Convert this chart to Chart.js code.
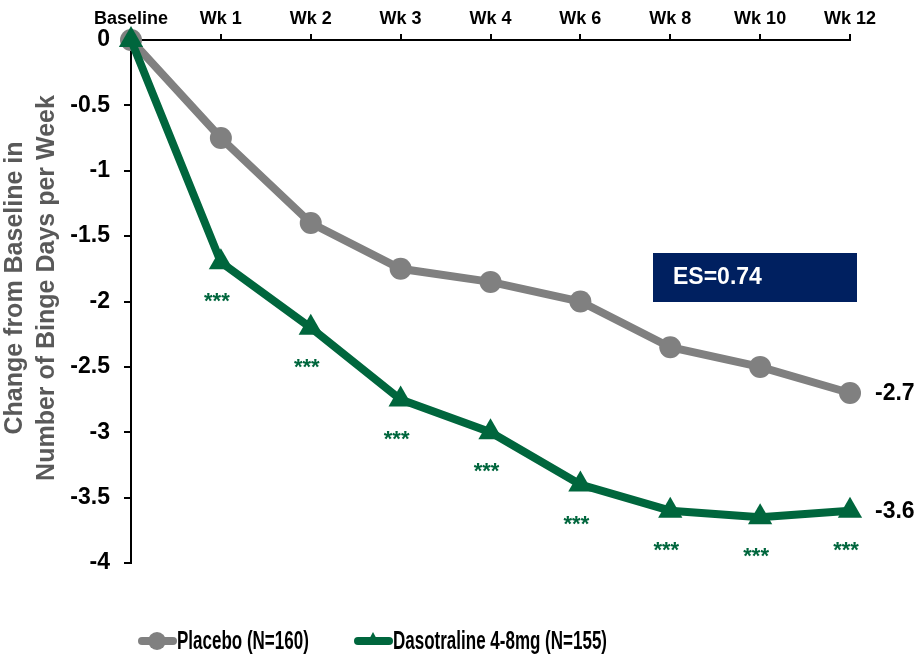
<!DOCTYPE html>
<html>
<head>
<meta charset="utf-8">
<script src="https://cdn.jsdelivr.net/npm/chart.js@4.4.1/dist/chart.umd.min.js"></script>
<style>
  html, body { margin: 0; padding: 0; background: #fff; }
</style>
</head>
<body>
<canvas id="myChart" width="920" height="658"></canvas>
<script>
// chart data
var weeks = ['Baseline', 'Wk 1', 'Wk 2', 'Wk 3', 'Wk 4', 'Wk 6', 'Wk 8', 'Wk 10', 'Wk 12'];
var placebo = [0, -0.75, -1.4, -1.75, -1.85, -2.0, -2.35, -2.5, -2.7];
var dasotraline = [0, -1.7, -2.2, -2.75, -3.0, -3.4, -3.6, -3.65, -3.6];
var significance = ['', '***', '***', '***', '***', '***', '***', '***', '***'];
var seriesNames = ['Placebo (N=160)', 'Dasotraline 4-8mg (N=155)'];
var endLabels = ['-2.7', '-3.6'];
var yTicks = [0, -0.5, -1, -1.5, -2, -2.5, -3, -3.5, -4];
var yTitle = ['Change from Baseline in', 'Number of Binge Days per Week'];
var effectSize = 'ES=0.74';

var GREY = '#808080';
var GREEN = '#00663d';
var FONT = '"Liberation Sans", Arial, Helvetica, sans-serif';

var overlay = {
    id: 'overlay',
    afterDraw: function(chart) {
        var ctx = chart.ctx;
        var xs = chart.scales.x, ys = chart.scales.y;
        ctx.save();

        // y axis title, two lines
        ctx.fillStyle = '#595959';
        ctx.font = 'bold 25px ' + FONT;
        ctx.textAlign = 'center';
        ctx.textBaseline = 'middle';
        for (var l = 0; l < yTitle.length; l++) {
            ctx.save();
            ctx.translate(15 + l * 32, 288);
            ctx.rotate(-Math.PI / 2);
            ctx.fillText(yTitle[l], 0, 0);
            ctx.restore();
        }

        // significance stars under dasotraline points
        ctx.fillStyle = GREEN;
        ctx.font = 'bold 22px ' + FONT;
        for (var i = 0; i < weeks.length; i++) {
            if (!significance[i]) continue;
            ctx.fillText(significance[i], xs.getPixelForValue(i) - 4, ys.getPixelForValue(dasotraline[i]) + 40);
        }

        // end value labels
        ctx.fillStyle = '#000';
        ctx.font = 'bold 23px ' + FONT;
        ctx.textAlign = 'left';
        var last = weeks.length - 1;
        var ends = [placebo[last], dasotraline[last]];
        for (var e = 0; e < ends.length; e++) {
            ctx.fillText(endLabels[e], xs.getPixelForValue(last) + 25, ys.getPixelForValue(ends[e]) + 1);
        }

        // effect size box
        ctx.fillStyle = '#002060';
        ctx.fillRect(653, 253, 204, 49);
        ctx.fillStyle = '#fff';
        ctx.font = 'bold 23px ' + FONT;
        ctx.fillText(effectSize, 673, 278);

        // legend
        var colors = [GREY, GREEN];
        var styles = ['circle', 'triangle'];
        var starts = [139, 355];
        var ly = 641;
        for (var k = 0; k < seriesNames.length; k++) {
            var x0 = starts[k];
            ctx.strokeStyle = colors[k];
            ctx.lineWidth = 8;
            ctx.lineCap = 'round';
            ctx.beginPath();
            ctx.moveTo(x0 + 3, ly);
            ctx.lineTo(x0 + 34, ly);
            ctx.stroke();
            ctx.fillStyle = colors[k];
            ctx.beginPath();
            if (styles[k] === 'circle') {
                ctx.arc(x0 + 18, ly, 9, 0, Math.PI * 2);
            } else {
                ctx.moveTo(x0 + 18, ly - 9);
                ctx.lineTo(x0 + 25, ly + 4);
                ctx.lineTo(x0 + 11, ly + 4);
                ctx.closePath();
            }
            ctx.fill();
            ctx.save();
            ctx.fillStyle = '#000';
            ctx.font = 'bold 25px ' + FONT;
            ctx.textAlign = 'left';
            ctx.translate(x0 + 38, ly + 1);
            ctx.scale(0.68, 1);
            ctx.fillText(seriesNames[k], 0, 0);
            ctx.restore();
        }
        ctx.restore();
    }
};

var ctx = document.getElementById('myChart').getContext('2d');
var myChart = new Chart(ctx, {
    type: 'line',
    data: {
        labels: weeks,
        datasets: [{
            label: seriesNames[0],
            data: placebo,
            borderColor: GREY,
            backgroundColor: GREY,
            borderWidth: 8,
            pointStyle: 'circle',
            pointRadius: 11,
            pointBorderWidth: 0,
            pointBackgroundColor: GREY,
            tension: 0,
            clip: false,
            order: 1
        }, {
            label: seriesNames[1],
            data: dasotraline,
            borderColor: GREEN,
            backgroundColor: GREEN,
            borderWidth: 8,
            pointStyle: 'triangle',
            pointRadius: 14,
            pointBorderWidth: 0,
            pointBackgroundColor: GREEN,
            tension: 0,
            clip: false,
            order: 0
        }]
    },
    options: {
        responsive: false,
        animation: false,
        layout: { padding: { left: 0, right: 70, top: 0, bottom: 95 } },
        plugins: {
            legend: { display: false },
            tooltip: { enabled: false }
        },
        scales: {
            x: {
                position: 'top',
                offset: false,
                afterFit: function(axis) { axis.height = 40; },
                grid: { drawOnChartArea: false, drawTicks: true, tickLength: 6, color: '#000', lineWidth: 2 },
                border: { display: true, color: '#000', width: 2 },
                ticks: {
                    color: '#000',
                    padding: 4,
                    maxRotation: 0,
                    autoSkip: false,
                    font: { family: FONT, size: 18, weight: 'bold' }
                }
            },
            y: {
                min: -4,
                max: 0,
                afterFit: function(axis) { axis.width = 131; },
                afterBuildTicks: function(axis) {
                    axis.ticks = yTicks.map(function(v) { return { value: v }; });
                },
                grid: { drawOnChartArea: false, drawTicks: true, tickLength: 7, color: '#000', lineWidth: 2 },
                border: { display: true, color: '#000', width: 2 },
                ticks: {
                    color: '#000',
                    padding: 14,
                    font: { family: FONT, size: 23, weight: 'bold' },
                    callback: function(value) { return String(value); }
                }
            }
        }
    },
    plugins: [overlay]
});
</script>
</body>
</html>
